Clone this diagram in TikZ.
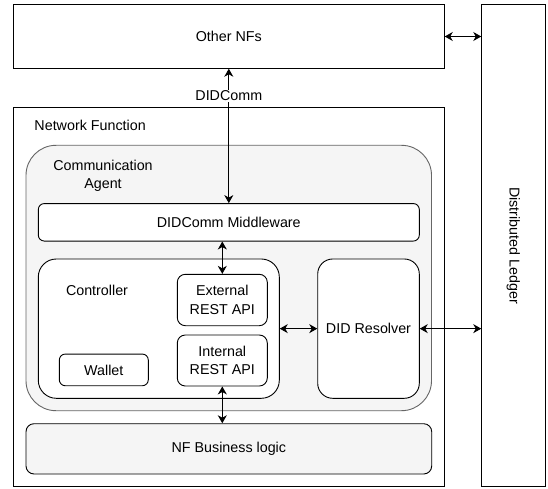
\documentclass[tikz,border=0pt]{standalone}
\usepackage{fontspec}
\setmainfont{Liberation Sans}
\usetikzlibrary{arrows.meta}
\definecolor{agentgray}{HTML}{666666}
\definecolor{boxfill}{HTML}{F5F5F5}
\begin{document}
\begin{tikzpicture}[x=1pt,y=-1pt,line width=.9pt,
  font=\fontsize{14.3}{18.6}\selectfont,
  box/.style={draw,rectangle,inner sep=0pt,align=center,fill=white},
  rbox/.style={box,rounded corners=#1},
  arr/.style={{Stealth[length=8pt,width=9pt,inset=2.5pt]}-{Stealth[length=8pt,width=9pt,inset=2.5pt]}}]
\useasboundingbox (0,0) rectangle (548,489);
% outer boxes
\node [box,minimum width=431pt,minimum height=63.6pt] (othernfs) at (228.8,36.5) {Other NFs};
\node [box,minimum width=63.3pt,minimum height=482pt] (ledger) at (513.35,245.7) {};
\node [rotate=-90] (ledgerlabel) at (ledger.center) {Distributed Ledger};
\node [box,minimum width=431pt,minimum height=379.4pt] (nf) at (228.8,297) {};
\node [anchor=base west] (nflabel) at (30.7,130.5) {Network Function};
% communication agent
\node [rbox=30pt,draw=agentgray,fill=boxfill,minimum width=405.5pt,minimum height=265.4pt] (agent) at (228.75,278) {};
\node [align=center] (agentlabel) at (103,176) {Communication\\Agent};
\node [rbox=6pt,minimum width=381pt,minimum height=37.5pt] (middleware) at (228.8,222.3) {DIDComm Middleware};
\node [rbox=18pt,minimum width=241pt,minimum height=139.3pt] (controller) at (158.8,328.65) {};
\node (ctrllabel) at (97,290) {Controller};
\node [rbox=8pt,minimum width=90pt,minimum height=51.4pt] (external) at (222.3,300) {External\\REST API};
\node [rbox=8pt,minimum width=90pt,minimum height=51pt] (internal) at (222.3,360.5) {Internal\\REST API};
\node [rbox=6pt,minimum width=89pt,minimum height=31.7pt] (wallet) at (103.8,369.9) {Wallet};
\node [rbox=15pt,minimum width=101.6pt,minimum height=139.3pt] (resolver) at (368.5,328.65) {DID Resolver};
\node [rbox=8pt,fill=boxfill,minimum width=405.7pt,minimum height=50.3pt] (business) at (228.85,448.85) {NF Business logic};
% connectors
\draw [arr] (middleware.north) -- node [fill=white,inner sep=1pt,pos=.8] (didcomm) {DIDComm} (othernfs.south);
\draw [arr] (othernfs.east) -- (othernfs.east -| ledger.west);
\draw [arr] (external.north |- middleware.south) -- (external.north);
\draw [arr] (internal.south) -- (internal.south |- business.north);
\draw [arr] (controller.east) -- (resolver.west);
\draw [arr] (resolver.east) -- (resolver.east -| ledger.west);
\end{tikzpicture}
\end{document}
